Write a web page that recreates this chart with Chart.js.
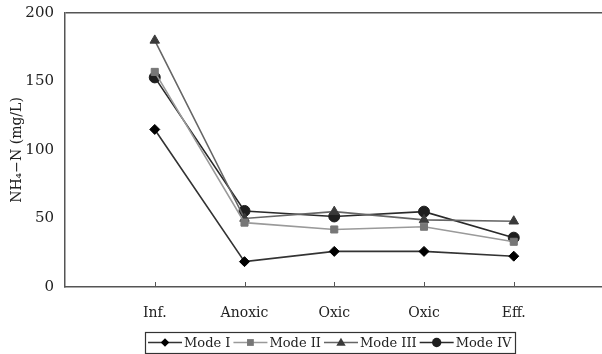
<!DOCTYPE html>
<html lang="en">
<head>
  <meta charset="UTF-8" />
  <title>NH4-N by stage</title>
  <script src="https://cdn.jsdelivr.net/npm/chart.js@4/dist/chart.umd.min.js"></script>
  <style>
    body { margin: 0; background: #fff; overflow: hidden; }
    #chart { display: block; }
  </style>
</head>
<body>
  <canvas id="chart" width="610" height="354" style="width:610px;height:354px"></canvas>

  <script>
    // stages (empty slots at both ends keep the gap the original axis has)
    const stages = ['', 'Inf.', 'Anoxic', 'Oxic', 'Oxic', 'Eff.', '']
    const modeI   = [null, 115, 18.5, 26, 26, 22.5, null]
    const modeII  = [null, 157, 47, 42, 44, 33, null]
    const modeIII = [null, 180, 50, 55, 49, 48, null]
    const modeIV  = [null, 153, 55.5, 51.5, 55, 36, null]
    const yTicks = [0, 50, 100, 150, 200]

    const serif = '"DejaVu Serif", "Liberation Serif", serif'
    const axisColor = '#555'

    function series(label, data, line, point, style, radius) {
      return {
        label, data,
        borderColor: line,
        borderWidth: 1.6,
        pointStyle: style,
        pointRadius: radius,
        pointBackgroundColor: point,
        pointBorderColor: point,
        pointBorderWidth: 1,
        tension: 0,
        spanGaps: false
      }
    }

    function marker(ctx, style, x, y, r, color) {
      ctx.fillStyle = color
      ctx.beginPath()
      if (style === 'rectRot') {
        ctx.moveTo(x, y - r); ctx.lineTo(x + r, y); ctx.lineTo(x, y + r); ctx.lineTo(x - r, y)
      } else if (style === 'rect') {
        ctx.rect(x - r * 0.8, y - r * 0.8, r * 1.6, r * 1.6)
      } else if (style === 'triangle') {
        ctx.moveTo(x, y - r); ctx.lineTo(x + r, y + r * 0.7); ctx.lineTo(x - r, y + r * 0.7)
      } else {
        ctx.arc(x, y, r, 0, Math.PI * 2)
      }
      ctx.closePath()
      ctx.fill()
    }

    // inward tick marks on the category axis, plus a boxed legend
    const extras = {
      id: 'extras',
      afterDraw(chart) {
        const ctx = chart.ctx
        const x = chart.scales.x
        const area = chart.chartArea
        ctx.save()
        ctx.strokeStyle = axisColor
        ctx.lineWidth = 1
        for (let i = 1; i < stages.length - 1; i++) {
          const px = Math.round(x.getPixelForValue(i)) + 0.5
          ctx.beginPath()
          ctx.moveTo(px, area.bottom)
          ctx.lineTo(px, area.bottom - 5)
          ctx.stroke()
        }

        ctx.font = '13px ' + serif
        ctx.textBaseline = 'middle'
        const lineLen = 34
        const items = chart.data.datasets.map(d => ({ d, w: ctx.measureText(d.label).width }))
        const total = items.reduce((s, it) => s + lineLen + 2 + it.w + 3, 0) + 4
        let cx = (area.left + area.right) / 2 - 4 - total / 2
        const top = 332, h = 21, cy = top + h / 2
        ctx.strokeStyle = '#333'
        ctx.lineWidth = 1.2
        ctx.strokeRect(Math.round(cx) + 0.5, top + 0.5, Math.round(total), h)
        cx += 3
        items.forEach(({ d, w }) => {
          ctx.strokeStyle = d.borderColor
          ctx.lineWidth = 1.6
          ctx.beginPath()
          ctx.moveTo(cx, cy)
          ctx.lineTo(cx + lineLen, cy)
          ctx.stroke()
          marker(ctx, d.pointStyle, cx + lineLen / 2, cy, d.pointRadius * 0.85, d.pointBackgroundColor)
          ctx.fillStyle = '#222'
          ctx.fillText(d.label, cx + lineLen + 2, cy + 1)
          cx += lineLen + 2 + w + 3
        })
        ctx.restore()
      }
    }

    new Chart(document.getElementById('chart').getContext('2d'), {
      type: 'line',
      data: {
        labels: stages,
        datasets: [
          series('Mode I', modeI, '#333', '#000', 'rectRot', 5),
          series('Mode II', modeII, '#9a9a9a', '#777', 'rect', 5),
          series('Mode III', modeIII, '#666', '#3a3a3a', 'triangle', 5.5),
          series('Mode IV', modeIV, '#2a2a2a', '#1e1e1e', 'circle', 5.5)
        ]
      },
      options: {
        responsive: false,
        animation: false,
        layout: { padding: { left: 0, top: 13, right: 5, bottom: 0 } },
        plugins: { legend: { display: false }, tooltip: { enabled: false } },
        scales: {
          x: {
            offset: false,
            grid: { display: false },
            border: { display: true, color: axisColor, width: 1.5 },
            ticks: {
              autoSkip: false, maxRotation: 0, padding: 10,
              color: '#222', font: { family: serif, size: 14 }
            },
            afterFit(s) { s.height = 67; s.paddingLeft = 0; s.paddingRight = 0 }
          },
          y: {
            min: 0, max: 200,
            afterBuildTicks(s) { s.ticks = yTicks.map(v => ({ value: v })) },
            grid: {
              drawTicks: false,
              lineWidth: 1.5,
              color: c => (c.tick && c.tick.value === 200 ? axisColor : 'transparent')
            },
            border: { display: true, color: axisColor, width: 1.5 },
            ticks: { padding: 11, color: '#222', font: { family: serif, size: 15 } },
            title: {
              display: true,
              text: 'NH\u2084\u2212N (mg/L)',
              color: '#222',
              font: { family: serif, size: 14 },
              padding: { top: 9, bottom: 0 }
            },
            afterFit(s) { s.width = 65; s.paddingTop = 0; s.paddingBottom = 0 }
          }
        }
      },
      plugins: [extras]
    })
  </script>
</body>
</html>
